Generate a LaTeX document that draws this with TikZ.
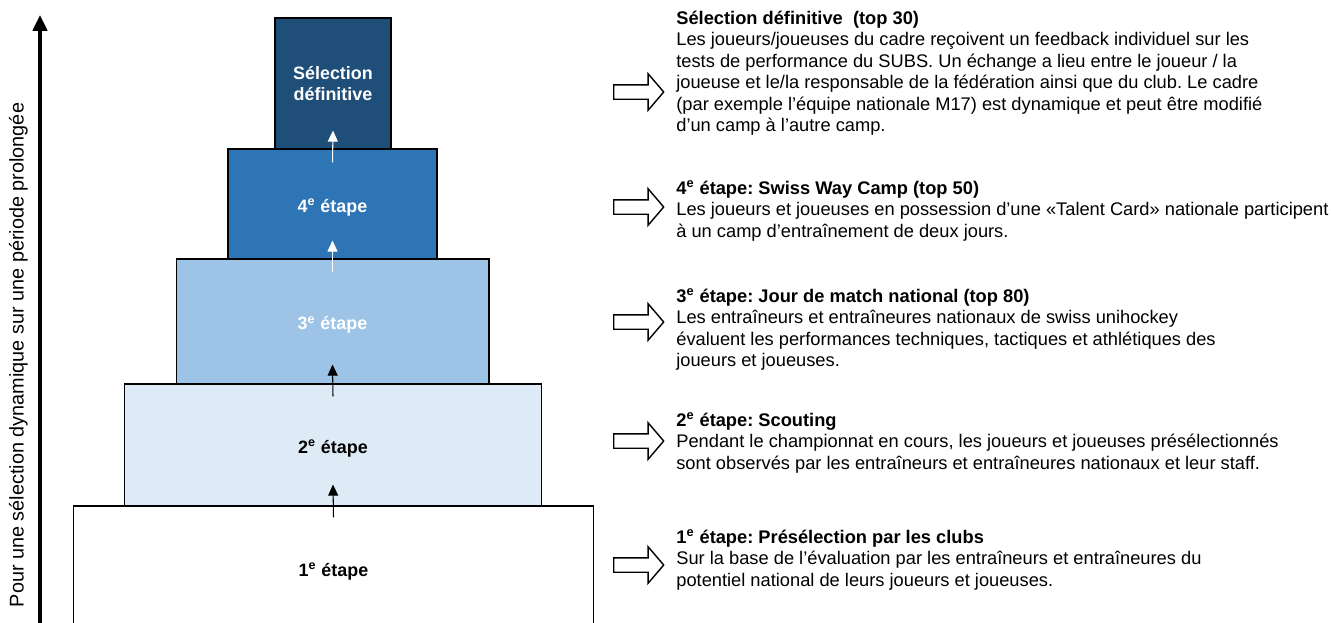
\documentclass[tikz,border=0pt]{standalone}
\usepackage{fontspec}
\setmainfont{Liberation Sans}
\usetikzlibrary{arrows.meta,shapes.arrows,positioning}

\definecolor{bleuA}{HTML}{1F4E79}
\definecolor{bleuB}{HTML}{2E75B6}
\definecolor{bleuC}{HTML}{9DC3E6}
\definecolor{bleuD}{HTML}{DEEBF7}

\begin{document}
\frenchspacing
\begin{tikzpicture}[x=0.02cm,y=-0.02cm,>={Triangle[width=5.7pt,length=6.3pt]},
    etage/.style={draw=black,line width=0.6pt,inner sep=0pt,align=center,
      font=\bfseries\fontsize{10.2}{12.5}\selectfont},
    niveau/.style={etage,text height=0.4cm,text depth=0.07cm},
    fleche/.style={->,line width=0.6pt},
    bloc/.style={single arrow,draw,line width=0.8pt,inner xsep=0pt,inner ysep=0.13cm,
      minimum height=1cm,single arrow head extend=0.22cm,single arrow tip angle=99},
    texte/.style={anchor=base west,inner sep=0pt,align=left,
      font=\fontsize{10.4}{12.2}\selectfont}]
    \useasboundingbox (0,0) rectangle (1331,622);
    \clip (0,0) rectangle (1331,622);

    % Axe
    \draw[line width=2.2pt,-{Triangle[width=8pt,length=9pt]}] (40,640) -- (40,15);
    \node[rotate=90,font=\fontsize{11.3}{13}\selectfont] (axe) at (18.5,355)
      {Pour une sélection dynamique sur une période prolongée};

    % Etapes
    \node[niveau,fill=white,minimum width=10.42cm,minimum height=2.48cm] (e1) at (333.5,568) {1\textsuperscript{e} étape};
    \node[niveau,fill=bleuD,minimum width=8.36cm,minimum height=2.44cm] (e2) at (333,445) {2\textsuperscript{e} étape};
    \node[niveau,fill=bleuC,text=white,minimum width=6.26cm,minimum height=2.5cm] (e3) at (332.5,321.5) {3\textsuperscript{e} étape};
    \node[niveau,fill=bleuB,text=white,minimum width=4.18cm,minimum height=2.2cm] (e4) at (332.5,204) {4\textsuperscript{e} étape};
    \node[etage,fill=bleuA,text=white,minimum width=2.32cm,minimum height=2.62cm] (e5) at (333,83.5) {Sélection\\définitive};

    % Fleches entre les etapes
    \draw[fleche] ([yshift=-0.24cm]e1.north) -- ([yshift=0.44cm]e2.south);
    \draw[fleche] ([yshift=-0.26cm]e2.north) -- ([yshift=0.4cm]e3.south);
    \draw[fleche,white] ([yshift=-0.28cm]e3.north) -- ([yshift=0.38cm]e4.south);
    \draw[fleche,white] ([yshift=-0.28cm]e4.north) -- ([yshift=0.38cm]e5.south);

    % Fleches vers les textes
    \node[bloc,anchor=tail] (f5) at (613,92) {};
    \node[bloc,anchor=tail] (f4) at (613,207) {};
    \node[bloc,anchor=tail] (f3) at (613,322) {};
    \node[bloc,anchor=tail] (f2) at (613,441) {};
    \node[bloc,anchor=tail] (f1) at (613,565) {};

    % Textes (base = ligne du bas)
    \node[texte] (t5) at (676,131.5) {\textbf{Sélection définitive~ (top 30)}\\
      Les joueurs/joueuses du cadre reçoivent un feedback individuel sur les\\
      tests de performance du SUBS. Un échange a lieu entre le joueur / la\\
      joueuse et le/la responsable de la fédération ainsi que du club. Le cadre\\
      (par exemple l'équipe nationale M17) est dynamique et peut être modifié\\
      d’un camp à l’autre camp.};
    \node[texte] (t4) at (676,237) {\textbf{4\textsuperscript{e} étape: Swiss Way Camp (top 50)}\\
      Les joueurs et joueuses en possession d'une «Talent Card» nationale participent\\
      à un camp d'entraînement de deux jours.};
    \node[texte] (t3) at (676,366.5) {\textbf{3\textsuperscript{e} étape: Jour de match national (top 80)}\\
      Les entraîneurs et entraîneures nationaux de swiss unihockey\\
      évaluent les performances techniques, tactiques et athlétiques des\\
      joueurs et joueuses.};
    \node[texte] (t2) at (676,469) {\textbf{2\textsuperscript{e} étape: Scouting}\\
      Pendant le championnat en cours, les joueurs et joueuses présélectionnés\\
      sont observés par les entraîneurs et entraîneures nationaux et leur staff.};
    \node[texte] (t1) at (676,586) {\textbf{1\textsuperscript{e} étape: Présélection par les clubs}\\
      Sur la base de l’évaluation par les entraîneurs et entraîneures du\\
      potentiel national de leurs joueurs et joueuses.};

\end{tikzpicture}
\end{document}
